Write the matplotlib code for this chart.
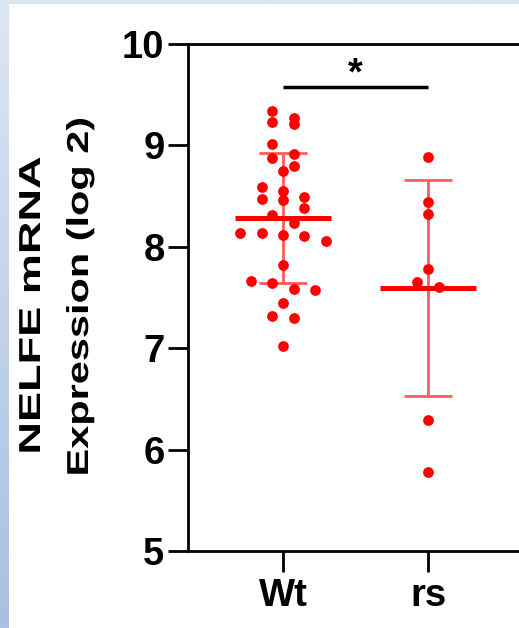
"""NELFE mRNA expression (log 2), Wt vs rs: scatter with mean and SD."""

import matplotlib

matplotlib.use("Agg")
import matplotlib.pyplot as plt
import numpy as np
from matplotlib.colors import LinearSegmentedColormap
from matplotlib.patches import Rectangle
from matplotlib.patheffects import AbstractPathEffect
from matplotlib.transforms import Affine2D

GROUPS = ["Wt", "rs"]
WT_VALUES = [
    9.342, 9.267, 9.228, 9.208, 9.014, 8.912, 8.873, 8.797, 8.751, 8.590, 8.550,
    8.494, 8.475, 8.459, 8.380, 8.314, 8.232, 8.139, 8.133, 8.116, 8.110, 8.060,
    7.820, 7.663, 7.646, 7.584, 7.574, 7.443, 7.318, 7.301, 7.022,
]
RS_VALUES = [8.889, 8.439, 8.323, 7.781, 7.650, 7.601, 6.292, 5.782]
Y_TICKS = [5, 6, 7, 8, 9, 10]
Y_LABEL_LINES = ["NELFE mRNA", "Expression (log 2)"]
SIG_LABEL = "*"
SIG_LEVEL = 9.576

RED = "#ff0000"
SD_RED = "#ff5c5c"
W, H, DPI = 519, 628, 100

plt.rcParams["font.family"] = ["Liberation Sans", "DejaVu Sans"]
plt.rcParams["font.weight"] = "bold"


class StretchY(AbstractPathEffect):
    """Stretch drawn text along display y around a fixed centre."""

    def __init__(self, factor, center):
        super().__init__()
        self.factor = factor
        self.center = center

    def draw_path(self, renderer, gc, tpath, affine, rgbFace=None):
        stretch = Affine2D().translate(0, -self.center).scale(1, self.factor).translate(0, self.center)
        renderer.draw_path(gc, tpath, affine + stretch, rgbFace)


def swarm_offsets(values, row_height, step):
    """Group close values into rows and spread each row symmetrically."""
    values = np.asarray(values, dtype=float)
    order = np.argsort(values)[::-1]
    offsets = np.zeros(len(values))
    i = 0
    while i < len(order):
        start = values[order[i]]
        row = [order[i]]
        j = i + 1
        while j < len(order) and start - values[order[j]] < row_height:
            row.append(order[j])
            j += 1
        n = len(row)
        for k, idx in enumerate(row):
            offsets[idx] = (k - (n - 1) / 2) * step
        i = j
    return offsets


fig = plt.figure(figsize=(W / DPI, H / DPI), dpi=DPI)
fig.patch.set_facecolor("white")

# slide-like background: blue gradient with a white panel on top
bg = fig.add_axes([0, 0, 1, 1], zorder=-10)
bg.axis("off")
cmap = LinearSegmentedColormap.from_list("slide", ["#dde6f3", "#a8c0e1"])
bg.imshow(np.linspace(0, 1, 256).reshape(-1, 1), cmap=cmap, aspect="auto", extent=[0, 1, 0, 1])
bg.add_patch(Rectangle((9 / W, 0), 1, 1 - 4 / H, transform=bg.transAxes, color="white", lw=0))
bg.set_xlim(0, 1)
bg.set_ylim(0, 1)

ax = fig.add_axes([188 / W, 1 - 551 / H, (560 - 188) / W, (551 - 44) / H])
ax.set_facecolor("none")

for i, values in enumerate([WT_VALUES, RS_VALUES]):
    vals = np.asarray(values)
    mean = vals.mean()
    sd = vals.std(ddof=1)
    ax.errorbar([i], [mean], yerr=[sd], fmt="none", ecolor=SD_RED, elinewidth=2,
                capsize=17.3, capthick=2, zorder=2)
    offsets = swarm_offsets(vals, row_height=0.105, step=0.148)
    ax.scatter(i + offsets, vals, s=60, color=RED, linewidths=0, zorder=3)
    ax.hlines(mean, i - 0.333, i + 0.333, color=RED, lw=3.6, zorder=4)

ax.plot([0, 1], [SIG_LEVEL, SIG_LEVEL], color="black", lw=2.5, solid_capstyle="butt")
ax.text(0.5, SIG_LEVEL + 0.025, SIG_LABEL, ha="center", va="baseline", fontsize=27.5,
        fontweight="bold", color="black")

ax.set_xlim(-0.655, 1.91)
ax.set_ylim(5, 10)
ax.set_yticks(Y_TICKS)
ax.set_xticks(range(len(GROUPS)), labels=GROUPS)
ax.spines["right"].set_visible(False)
for side in ("left", "bottom", "top"):
    ax.spines[side].set_linewidth(2)
    ax.spines[side].set_color("black")
ax.tick_params(axis="y", length=14.4, width=2, pad=2.5, labelsize=27.5)
ax.tick_params(axis="x", length=15, width=2, pad=4.3, labelsize=27.5)

# two-line y label, each line placed and stretched on its own
for line, left_px, center_px, factor in zip(Y_LABEL_LINES, (18, 66), (306, 297), (1.49, 1.37)):
    cy = H - center_px
    fig.text(left_px / W, cy / H, line, rotation=90, ha="left", va="center",
             fontsize=21.8, fontweight="bold", path_effects=[StretchY(factor, cy)])

fig.savefig("out.png", dpi=DPI)
